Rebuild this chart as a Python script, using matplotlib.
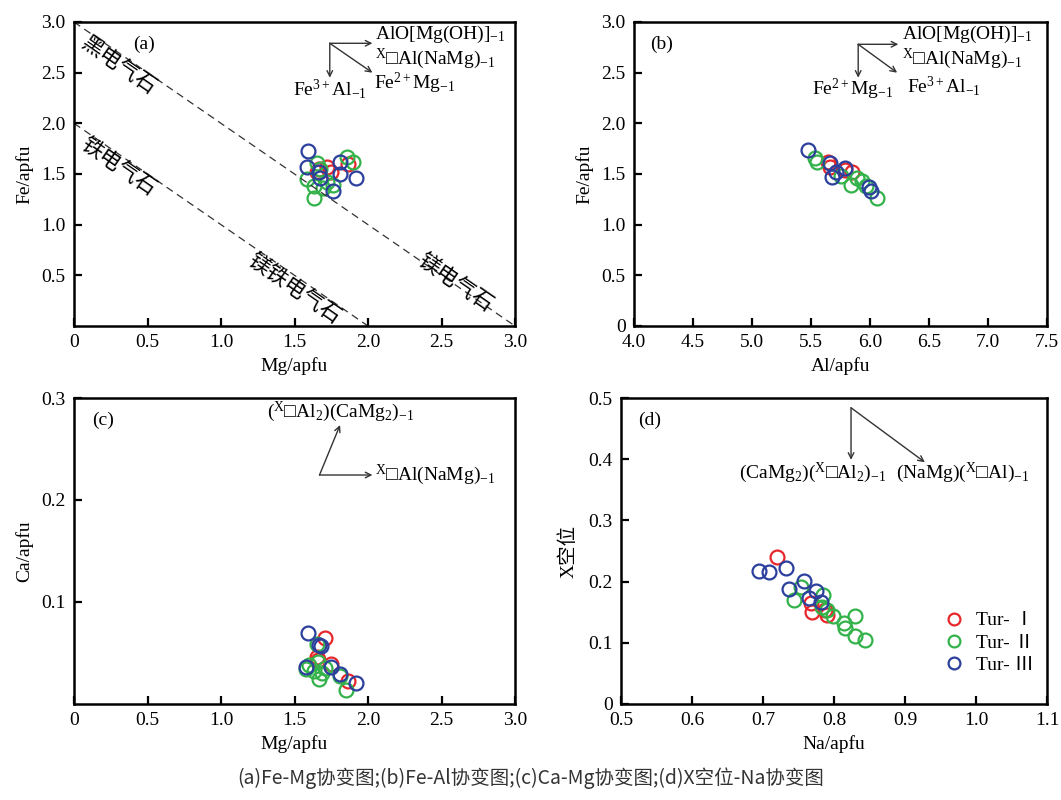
import matplotlib
matplotlib.use("Agg")
from matplotlib import pyplot as plt
import numpy as np

plt.rcParams['font.family'] = ['Liberation Serif', 'Noto Sans CJK SC', 'DejaVu Serif']
plt.rcParams['mathtext.fontset'] = 'custom'
plt.rcParams['mathtext.rm'] = 'Liberation Serif'
plt.rcParams['mathtext.it'] = 'Liberation Serif:italic'
plt.rcParams['axes.linewidth'] = 1.8

RED, GREEN, BLUE = '#e8262a', '#33b24a', '#2b3f9c'
CJK = ['Noto Sans CJK SC', 'DejaVu Sans']

# (a) Fe vs Mg
a_mg_1 = [1.655, 1.72, 1.746, 1.866, 1.669]
a_fe_1 = [1.515, 1.57, 1.515, 1.60, 1.55]
a_mg_2 = [1.855, 1.895, 1.655, 1.583, 1.63, 1.633, 1.696, 1.764, 1.72, 1.673]
a_fe_2 = [1.665, 1.62, 1.61, 1.45, 1.38, 1.26, 1.36, 1.39, 1.42, 1.55]
a_mg_3 = [1.594, 1.587, 1.673, 1.81, 1.81, 1.918, 1.76, 1.67]
a_fe_3 = [1.73, 1.57, 1.46, 1.62, 1.50, 1.46, 1.33, 1.52]

# (b) Fe vs Al
b_al_1 = [5.64, 5.66, 5.79, 5.85]
b_fe_1 = [1.62, 1.57, 1.54, 1.52]
b_al_2 = [5.53, 5.55, 5.75, 5.84, 5.89, 5.93, 5.97, 6.06]
b_fe_2 = [1.66, 1.62, 1.48, 1.39, 1.46, 1.43, 1.38, 1.26]
b_al_3 = [5.475, 5.66, 5.68, 5.71, 5.79, 5.99, 6.01]
b_fe_3 = [1.74, 1.61, 1.47, 1.52, 1.56, 1.37, 1.33]

# (c) Ca vs Mg
c_mg_1 = [1.71, 1.65, 1.66, 1.75, 1.866]
c_ca_1 = [0.065, 0.046, 0.043, 0.039, 0.023]
c_mg_2 = [1.65, 1.66, 1.58, 1.67, 1.63, 1.81, 1.85, 1.71, 1.60, 1.69]
c_ca_2 = [0.059, 0.041, 0.034, 0.025, 0.032, 0.027, 0.014, 0.035, 0.038, 0.030]
c_mg_3 = [1.59, 1.67, 1.58, 1.75, 1.81, 1.92, 1.68]
c_ca_3 = [0.070, 0.058, 0.036, 0.036, 0.029, 0.021, 0.057]

# (d) X-site vacancy vs Na
d_na_1 = [0.720, 0.767, 0.769, 0.787, 0.790]
d_x_1 = [0.240, 0.165, 0.150, 0.154, 0.145]
d_na_2 = [0.754, 0.744, 0.784, 0.783, 0.790, 0.799, 0.814, 0.816, 0.830, 0.829, 0.844]
d_x_2 = [0.191, 0.170, 0.178, 0.159, 0.154, 0.144, 0.132, 0.125, 0.144, 0.111, 0.105]
d_na_3 = [0.694, 0.709, 0.732, 0.737, 0.758, 0.775, 0.765, 0.782]
d_x_3 = [0.217, 0.215, 0.223, 0.188, 0.201, 0.185, 0.173, 0.167]

groups = ['Tur- Ⅰ', 'Tur- Ⅱ', 'Tur- Ⅲ']
colors = [RED, GREEN, BLUE]

fig = plt.figure(figsize=(10.61, 8), dpi=100)
ax_a = fig.add_axes([74/1061, 474/800, 441/1061, 304/800])
ax_b = fig.add_axes([634/1061, 474/800, 413/1061, 304/800])
ax_c = fig.add_axes([74/1061, 96/800, 441/1061, 306/800])
ax_d = fig.add_axes([621/1061, 96/800, 426/1061, 306/800])


def scatter(ax, xs, ys):
    for x, y, col, lab in zip(xs, ys, colors, groups):
        ax.plot(x, y, 'o', ms=10, mfc='none', mec=col, mew=1.6, ls='none', label=lab)


def style(ax):
    ax.tick_params(direction='in', length=6, width=1.6, labelsize=14, pad=6)


def arrow(ax, start, end):
    ax.annotate('', xy=end, xytext=start,
                arrowprops=dict(arrowstyle='->', lw=1.0, color='#333333',
                                shrinkA=0, shrinkB=0, mutation_scale=10))


# --- (a)
ax = ax_a
scatter(ax, [a_mg_1, a_mg_2, a_mg_3], [a_fe_1, a_fe_2, a_fe_3])
line_x = np.array([0, 3.0])
ax.plot(line_x, 3.0 - line_x, ls=(0, (6, 4)), color='#333333', lw=0.9)
ax.plot([0, 2.0], [2.0, 0], ls=(0, (6, 4)), color='#333333', lw=0.9)
ax.set_xlim(0, 3.0)
ax.set_ylim(0, 3.0)
ax.set_xticks([0, 0.5, 1.0, 1.5, 2.0, 2.5, 3.0])
ax.set_xticklabels(['0', '0.5', '1.0', '1.5', '2.0', '2.5', '3.0'])
ax.set_yticks([0.5, 1.0, 1.5, 2.0, 2.5, 3.0])
ax.set_yticklabels(['0.5', '1.0', '1.5', '2.0', '2.5', '3.0'])
ax.set_xlabel('Mg/apfu', fontsize=14, labelpad=4)
ax.set_ylabel('Fe/apfu', fontsize=14, labelpad=6)
ax.text(0.135, 0.955, '(a)', transform=ax.transAxes, fontsize=14, va='top')
rot = -np.degrees(np.arctan(101.3 / 147))
for x, y, name in [(0.04, 2.76, '黑电气石'), (0.04, 1.76, '铁电气石'),
                   (1.17, 0.62, '镁铁电气石'), (2.33, 0.62, '镁电气石')]:
    ax.text(x, y, name, family=CJK, fontsize=15.5, rotation=rot, rotation_mode='anchor')
arrow(ax, (1.74, 2.79), (2.03, 2.79))
arrow(ax, (1.74, 2.79), (1.74, 2.45))
arrow(ax, (1.74, 2.79), (2.03, 2.50))
ax.text(2.05, 2.88, 'AlO[Mg(OH)]$_{-1}$', fontsize=14, va='center')
ax.text(2.05, 2.64, '$^{\\mathrm{X}}$□Al(NaMg)$_{-1}$', fontsize=14, va='center')
ax.text(2.04, 2.39, 'Fe$^{2+}$Mg$_{-1}$', fontsize=14, va='center')
ax.text(1.74, 2.34, 'Fe$^{3+}$Al$_{-1}$', fontsize=14, va='center', ha='center')
style(ax)

# --- (b)
ax = ax_b
scatter(ax, [b_al_1, b_al_2, b_al_3], [b_fe_1, b_fe_2, b_fe_3])
ax.set_xlim(4.0, 7.5)
ax.set_ylim(0, 3.0)
ax.set_xticks(np.arange(4.0, 7.51, 0.5))
ax.set_xticklabels(['4.0', '4.5', '5.0', '5.5', '6.0', '6.5', '7.0', '7.5'])
ax.set_yticks(np.arange(0, 3.01, 0.5))
ax.set_yticklabels(['0', '0.5', '1.0', '1.5', '2.0', '2.5', '3.0'])
ax.set_xlabel('Al/apfu', fontsize=14, labelpad=4)
ax.set_ylabel('Fe/apfu', fontsize=14, labelpad=6)
ax.text(0.04, 0.955, '(b)', transform=ax.transAxes, fontsize=14, va='top')
arrow(ax, (5.90, 2.78), (6.24, 2.78))
arrow(ax, (5.90, 2.78), (5.90, 2.45))
arrow(ax, (5.90, 2.78), (6.23, 2.50))
ax.text(6.27, 2.88, 'AlO[Mg(OH)]$_{-1}$', fontsize=14, va='center')
ax.text(6.27, 2.64, '$^{\\mathrm{X}}$□Al(NaMg)$_{-1}$', fontsize=14, va='center')
ax.text(6.31, 2.37, 'Fe$^{3+}$Al$_{-1}$', fontsize=14, va='center')
ax.text(5.85, 2.33, 'Fe$^{2+}$Mg$_{-1}$', fontsize=14, va='center', ha='center')
style(ax)

# --- (c)
ax = ax_c
scatter(ax, [c_mg_1, c_mg_2, c_mg_3], [c_ca_1, c_ca_2, c_ca_3])
ax.set_xlim(0, 3.0)
ax.set_ylim(0, 0.3)
ax.set_xticks([0, 0.5, 1.0, 1.5, 2.0, 2.5, 3.0])
ax.set_xticklabels(['0', '0.5', '1.0', '1.5', '2.0', '2.5', '3.0'])
ax.set_yticks([0.1, 0.2, 0.3])
ax.set_yticklabels(['0.1', '0.2', '0.3'])
ax.set_xlabel('Mg/apfu', fontsize=14, labelpad=4)
ax.set_ylabel('Ca/apfu', fontsize=14, labelpad=6)
ax.text(0.04, 0.955, '(c)', transform=ax.transAxes, fontsize=14, va='top')
arrow(ax, (1.67, 0.2245), (2.03, 0.2245))
arrow(ax, (1.67, 0.2245), (1.81, 0.2735))
ax.text(1.31, 0.286, '($^{\\mathrm{X}}$□Al$_2$)(CaMg$_2$)$_{-1}$', fontsize=14, va='center')
ax.text(2.05, 0.2245, '$^{\\mathrm{X}}$□Al(NaMg)$_{-1}$', fontsize=14, va='center')
style(ax)

# --- (d)
ax = ax_d
scatter(ax, [d_na_1, d_na_2, d_na_3], [d_x_1, d_x_2, d_x_3])
ax.set_xlim(0.5, 1.1)
ax.set_ylim(0, 0.5)
ax.set_xticks(np.arange(0.5, 1.101, 0.1))
ax.set_xticklabels(['0.5', '0.6', '0.7', '0.8', '0.9', '1.0', '1.1'])
ax.set_yticks(np.arange(0, 0.501, 0.1))
ax.set_yticklabels(['0', '0.1', '0.2', '0.3', '0.4', '0.5'])
ax.set_xlabel('Na/apfu', fontsize=14, labelpad=4)
ax.set_ylabel('X空位', fontsize=14, labelpad=8)
ax.text(0.04, 0.955, '(d)', transform=ax.transAxes, fontsize=14, va='top')
arrow(ax, (0.824, 0.484), (0.824, 0.399))
arrow(ax, (0.824, 0.484), (0.928, 0.395))
ax.text(0.873, 0.378, '(CaMg$_2$)($^{\\mathrm{X}}$□Al$_2$)$_{-1}$', fontsize=14, va='center', ha='right')
ax.text(0.887, 0.378, '(NaMg)($^{\\mathrm{X}}$□Al)$_{-1}$', fontsize=14, va='center')
leg = ax.legend(loc='lower right', bbox_to_anchor=(1.01, 0.04), frameon=False,
                handletextpad=0.1, labelspacing=0.25, markerscale=0.85,
                prop={'size': 14})
style(ax)

fig.text(0.5, 0.027, '(a)Fe-Mg协变图;(b)Fe-Al协变图;(c)Ca-Mg协变图;(d)X空位-Na协变图',
         ha='center', va='center', fontsize=14, family=CJK, color='#333333')

fig.savefig('out.png', dpi=100)
